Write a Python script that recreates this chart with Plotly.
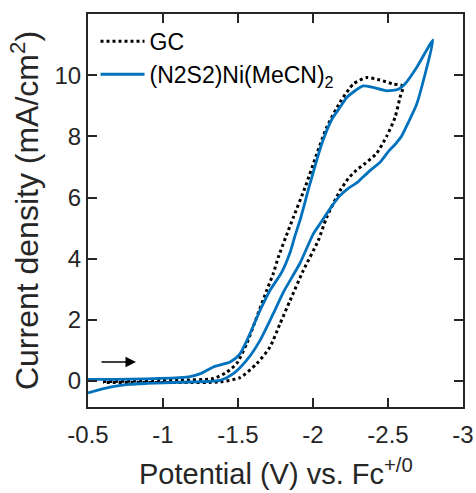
import plotly.graph_objects as go

# GC (dotted black), full cycle
gc_potential = [-0.6, -1.113, -1.335, -1.425, -1.491, -1.558, -1.625, -1.691, -1.735, -1.769,
                -1.835, -1.869, -1.947, -2.025, -2.091, -2.18, -2.269, -2.358, -2.447, -2.535, -2.6,
                -2.58, -2.547, -2.491, -2.425, -2.35, -2.29, -2.235, -2.18, -2.091, -2.035, -1.935,
                -1.847, -1.78, -1.713, -1.625, -1.513, -1.38, -1.1, -0.6]
gc_current = [-0.02, 0.03, 0.08, 0.29, 0.57, 1.22, 2.09, 2.96, 3.51, 4.05,
              4.92, 5.35, 6.33, 7.42, 8.29, 9.11, 9.71, 9.92, 9.84, 9.71, 9.65,
              9.27, 8.62, 8.0, 7.45, 7.12, 6.9, 6.62, 6.22, 5.35, 4.59, 3.61,
              2.63, 1.87, 1.11, 0.57, 0.11, -0.03, -0.05, -0.05]

# (N2S2)Ni(MeCN)2 (solid blue), full cycle
ni_potential = [-0.5, -0.78, -1.11, -1.18, -1.25, -1.335, -1.447, -1.513, -1.58, -1.647,
                -1.713, -1.791, -1.847, -1.88, -1.913, -1.98, -2.058, -2.125, -2.18, -2.225,
                -2.269, -2.335, -2.402, -2.491, -2.569, -2.613, -2.691, -2.8,
                -2.747, -2.691, -2.635, -2.59, -2.55, -2.502, -2.447, -2.38, -2.335,
                -2.291, -2.235, -2.18, -2.113, -2.047, -2.002, -1.913, -1.802, -1.735, -1.647,
                -1.558, -1.469, -1.38, -1.113, -0.891, -0.78, -0.647, -0.5]
ni_current = [0.05, 0.06, 0.11, 0.14, 0.24, 0.46, 0.62, 0.89, 1.55, 2.31,
              2.96, 3.55, 4.2, 4.75, 5.25, 6.45, 7.75, 8.55, 8.95, 9.27,
              9.45, 9.65, 9.60, 9.49, 9.54, 9.71, 10.25, 11.15,
              10.03, 9.05, 8.45, 8.0, 7.75, 7.5, 7.15, 6.88, 6.68,
              6.48, 6.3, 6.06, 5.63, 5.14, 4.81, 3.85, 2.9, 2.2, 1.33,
              0.68, 0.24, 0.02, -0.04, -0.08, -0.11, -0.2, -0.39]

x_ticks = [-0.5, -1, -1.5, -2, -2.5, -3]
x_tick_labels = ["-0.5", "-1", "-1.5", "-2", "-2.5", "-3"]
y_ticks = [0, 2, 4, 6, 8, 10]
y_tick_labels = ["0", "2", "4", "6", "8", "10"]
x_title = "Potential (V) vs. Fc<sup>+/0</sup>"
y_title = "Current density (mA/cm<sup>2</sup>)"

FONT = "Liberation Sans, Arial, Helvetica, sans-serif"
AX = "#262626"
BLUE = "#0072BD"

fig = go.Figure()
fig.add_trace(go.Scatter(x=gc_potential, y=gc_current, mode="lines", name="GC",
                         line=dict(color="black", width=3, dash="3px,3px", shape="spline", smoothing=0.6)))
fig.add_trace(go.Scatter(x=ni_potential, y=ni_current, mode="lines", name="(N2S2)Ni(MeCN)<sub>2</sub>",
                         line=dict(color=BLUE, width=2.8, shape="spline", smoothing=0.6)))

fig.add_annotation(x=-0.82, y=0.62, ax=-0.58, ay=0.62, xref="x", yref="y", axref="x", ayref="y",
                   text="", showarrow=True, arrowhead=2, arrowsize=1.4, arrowwidth=1.5, arrowcolor="black")

# x-axis title (placed as an annotation so it can sit lower than Plotly's margin-constrained title)
fig.add_annotation(x=0.5, y=-0.166, xref="paper", yref="paper", xanchor="center", yanchor="middle",
                   text=x_title, showarrow=False, font=dict(family=FONT, size=29, color=AX))

axis_common = dict(showline=True, linewidth=2, linecolor=AX, mirror="ticks", ticks="inside",
                   ticklen=9, tickwidth=2, tickcolor=AX, showgrid=False, zeroline=False,
                   automargin=False, tickfont=dict(family=FONT, size=24, color=AX))

fig.update_xaxes(range=[-0.5, -3], tickvals=x_ticks, ticktext=x_tick_labels, ticklabelstandoff=5,
                 **axis_common)
fig.update_yaxes(range=[-0.85, 12], tickvals=y_ticks, ticktext=y_tick_labels,
                 title=dict(text=y_title, font=dict(family=FONT, size=32, color=AX), standoff=6),
                 **axis_common)

fig.update_layout(width=476, height=493, margin=dict(l=88, r=13, t=14, b=86),
                  paper_bgcolor="white", plot_bgcolor="white",
                  legend=dict(x=0.02, y=0.985, xanchor="left", yanchor="top", bgcolor="rgba(0,0,0,0)",
                              font=dict(family=FONT, size=23, color="black"), itemwidth=44,
                              tracegroupgap=0),
                  showlegend=True)

fig.write_html("out.html")
